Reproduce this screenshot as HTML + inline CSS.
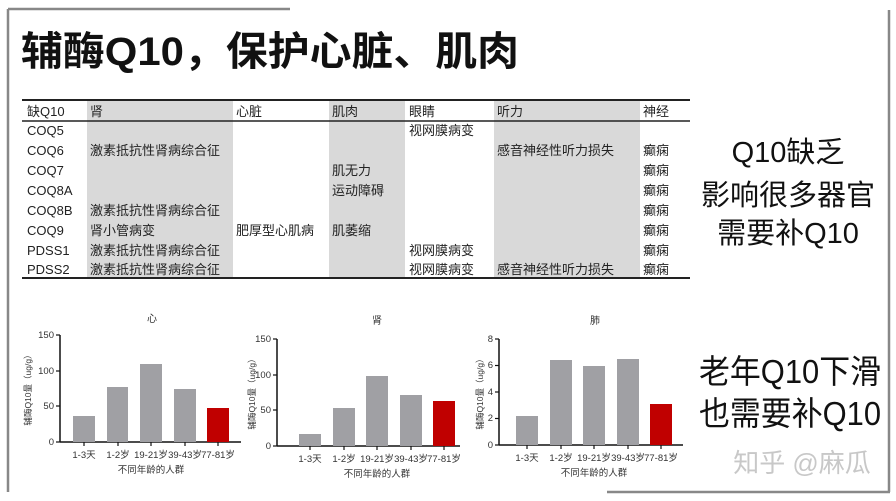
<!DOCTYPE html>
<html><head><meta charset="utf-8"><style>
html,body{margin:0;padding:0;background:#fff;}
svg{display:block;}
text{font-family:"Liberation Sans","Noto Sans CJK SC",sans-serif;}
</style></head><body>
<svg width="896" height="501" viewBox="0 0 896 501" xmlns="http://www.w3.org/2000/svg">
<rect width="896" height="501" fill="#fff"/>
<line x1="8" y1="9" x2="290" y2="9" stroke="#888" stroke-width="2.5"/>
<line x1="8" y1="9" x2="8" y2="492" stroke="#888" stroke-width="2.5"/>
<line x1="889" y1="10" x2="889" y2="492" stroke="#888" stroke-width="2.5"/>
<line x1="607" y1="492" x2="890" y2="492" stroke="#888" stroke-width="2.5"/>
<text x="21" y="65" font-size="40" font-weight="bold" fill="#111" textLength="498" lengthAdjust="spacingAndGlyphs">辅酶Q10，保护心脏、肌肉</text>
<g fill="#d9d9d9">
<rect x="87" y="101" width="146" height="177"/>
<rect x="329" y="101" width="76" height="177"/>
<rect x="494" y="101" width="146" height="177"/>
</g>
<line x1="22" y1="100" x2="690" y2="100" stroke="#222" stroke-width="2"/>
<line x1="22" y1="121" x2="690" y2="121" stroke="#222" stroke-width="1.5"/>
<line x1="22" y1="278" x2="690" y2="278" stroke="#222" stroke-width="2"/>
<g font-size="13" fill="#222">
<text x="27" y="116">缺Q10</text><text x="90" y="116">肾</text><text x="236" y="116">心脏</text><text x="332" y="116">肌肉</text><text x="409" y="116">眼睛</text><text x="497" y="116">听力</text><text x="643" y="116">神经</text>
<text x="27" y="135">COQ5</text><text x="409" y="135">视网膜病变</text>
<text x="27" y="155">COQ6</text><text x="90" y="155">激素抵抗性肾病综合征</text><text x="497" y="155">感音神经性听力损失</text><text x="643" y="155">癫痫</text>
<text x="27" y="175">COQ7</text><text x="332" y="175">肌无力</text><text x="643" y="175">癫痫</text>
<text x="27" y="195">COQ8A</text><text x="332" y="195">运动障碍</text><text x="643" y="195">癫痫</text>
<text x="27" y="215">COQ8B</text><text x="90" y="215">激素抵抗性肾病综合征</text><text x="643" y="215">癫痫</text>
<text x="27" y="235">COQ9</text><text x="90" y="235">肾小管病变</text><text x="236" y="235">肥厚型心肌病</text><text x="332" y="235">肌萎缩</text><text x="643" y="235">癫痫</text>
<text x="27" y="255">PDSS1</text><text x="90" y="255">激素抵抗性肾病综合征</text><text x="409" y="255">视网膜病变</text><text x="643" y="255">癫痫</text>
<text x="27" y="274">PDSS2</text><text x="90" y="274">激素抵抗性肾病综合征</text><text x="409" y="274">视网膜病变</text><text x="497" y="274">感音神经性听力损失</text><text x="643" y="274">癫痫</text>
</g>
<g font-size="29" fill="#111" text-anchor="middle">
<text x="788" y="162">Q10缺乏</text>
<text x="788" y="205">影响很多器官</text>
<text x="788" y="243">需要补Q10</text>
</g>
<g font-size="33" fill="#111" text-anchor="middle">
<text x="790" y="383" textLength="182" lengthAdjust="spacingAndGlyphs">老年Q10下滑</text>
<text x="790" y="425" textLength="182" lengthAdjust="spacingAndGlyphs">也需要补Q10</text>
</g>
<text x="802" y="472" font-size="26" fill="#c8c8c8" text-anchor="middle">知乎 @麻瓜</text>
<g font-size="9.5" fill="#333">
<text x="152" y="322" font-size="10" text-anchor="middle">心</text>
<line x1="60" y1="335" x2="60" y2="442" stroke="#111" stroke-width="1.5"/>
<line x1="60" y1="442" x2="241" y2="442" stroke="#111" stroke-width="1.5"/>
<g stroke="#111" stroke-width="1.2"><line x1="56" y1="335" x2="60" y2="335"/><line x1="56" y1="371" x2="60" y2="371"/><line x1="56" y1="406" x2="60" y2="406"/><line x1="56" y1="442" x2="60" y2="442"/>
<line x1="84" y1="442" x2="84" y2="446"/><line x1="118" y1="442" x2="118" y2="446"/><line x1="151" y1="442" x2="151" y2="446"/><line x1="185" y1="442" x2="185" y2="446"/><line x1="218" y1="442" x2="218" y2="446"/></g>
<text x="54" y="338" text-anchor="end">150</text><text x="54" y="374" text-anchor="end">100</text><text x="54" y="409" text-anchor="end">50</text><text x="54" y="445" text-anchor="end">0</text>
<rect x="73" y="416" width="22" height="26" fill="#a0a0a4"/>
<rect x="107" y="387" width="21" height="55" fill="#a0a0a4"/>
<rect x="140" y="364" width="22" height="78" fill="#a0a0a4"/>
<rect x="174" y="389" width="22" height="53" fill="#a0a0a4"/>
<rect x="207" y="408" width="22" height="34" fill="#c00000"/>
<text x="84" y="458" text-anchor="middle">1-3天</text><text x="118" y="458" text-anchor="middle">1-2岁</text><text x="151" y="458" text-anchor="middle">19-21岁</text><text x="185" y="458" text-anchor="middle">39-43岁</text><text x="218" y="458" text-anchor="middle">77-81岁</text>
<text x="151" y="473" text-anchor="middle">不同年龄的人群</text>
<text transform="translate(31,388) rotate(-90)" text-anchor="middle" font-size="8.5">辅酶Q10量（ug/g）</text>
</g>
<g font-size="9.5" fill="#333">
<text x="377" y="324" font-size="10" text-anchor="middle">肾</text>
<line x1="277" y1="339" x2="277" y2="446" stroke="#111" stroke-width="1.5"/>
<line x1="277" y1="446" x2="460" y2="446" stroke="#111" stroke-width="1.5"/>
<g stroke="#111" stroke-width="1.2"><line x1="273" y1="339" x2="277" y2="339"/><line x1="273" y1="375" x2="277" y2="375"/><line x1="273" y1="410" x2="277" y2="410"/><line x1="273" y1="446" x2="277" y2="446"/>
<line x1="310" y1="446" x2="310" y2="450"/><line x1="344" y1="446" x2="344" y2="450"/><line x1="377" y1="446" x2="377" y2="450"/><line x1="411" y1="446" x2="411" y2="450"/><line x1="444" y1="446" x2="444" y2="450"/></g>
<text x="271" y="342" text-anchor="end">150</text><text x="271" y="378" text-anchor="end">100</text><text x="271" y="413" text-anchor="end">50</text><text x="271" y="449" text-anchor="end">0</text>
<rect x="299" y="434" width="22" height="12" fill="#a0a0a4"/>
<rect x="333" y="408" width="22" height="38" fill="#a0a0a4"/>
<rect x="366" y="376" width="22" height="70" fill="#a0a0a4"/>
<rect x="400" y="395" width="22" height="51" fill="#a0a0a4"/>
<rect x="433" y="401" width="22" height="45" fill="#c00000"/>
<text x="310" y="462" text-anchor="middle">1-3天</text><text x="344" y="462" text-anchor="middle">1-2岁</text><text x="377" y="462" text-anchor="middle">19-21岁</text><text x="411" y="462" text-anchor="middle">39-43岁</text><text x="444" y="462" text-anchor="middle">77-81岁</text>
<text x="377" y="477" text-anchor="middle">不同年龄的人群</text>
<text transform="translate(255,392) rotate(-90)" text-anchor="middle" font-size="8.5">辅酶Q10量（ug/g）</text>
</g>
<g font-size="9.5" fill="#333">
<text x="595" y="324" font-size="10" text-anchor="middle">肺</text>
<line x1="499" y1="339" x2="499" y2="445" stroke="#111" stroke-width="1.5"/>
<line x1="499" y1="445" x2="683" y2="445" stroke="#111" stroke-width="1.5"/>
<g stroke="#111" stroke-width="1.2"><line x1="495" y1="339" x2="499" y2="339"/><line x1="495" y1="365.5" x2="499" y2="365.5"/><line x1="495" y1="392" x2="499" y2="392"/><line x1="495" y1="418.5" x2="499" y2="418.5"/><line x1="495" y1="445" x2="499" y2="445"/>
<line x1="527" y1="445" x2="527" y2="449"/><line x1="561" y1="445" x2="561" y2="449"/><line x1="594" y1="445" x2="594" y2="449"/><line x1="628" y1="445" x2="628" y2="449"/><line x1="661" y1="445" x2="661" y2="449"/></g>
<text x="493" y="342" text-anchor="end">8</text><text x="493" y="368" text-anchor="end">6</text><text x="493" y="395" text-anchor="end">4</text><text x="493" y="421" text-anchor="end">2</text><text x="493" y="448" text-anchor="end">0</text>
<rect x="516" y="416" width="22" height="29" fill="#a0a0a4"/>
<rect x="550" y="360" width="22" height="85" fill="#a0a0a4"/>
<rect x="583" y="366" width="22" height="79" fill="#a0a0a4"/>
<rect x="617" y="359" width="22" height="86" fill="#a0a0a4"/>
<rect x="650" y="404" width="22" height="41" fill="#c00000"/>
<text x="527" y="461" text-anchor="middle">1-3天</text><text x="561" y="461" text-anchor="middle">1-2岁</text><text x="594" y="461" text-anchor="middle">19-21岁</text><text x="628" y="461" text-anchor="middle">39-43岁</text><text x="661" y="461" text-anchor="middle">77-81岁</text>
<text x="594" y="476" text-anchor="middle">不同年龄的人群</text>
<text transform="translate(483,392) rotate(-90)" text-anchor="middle" font-size="8.5">辅酶Q10量（ug/g）</text>
</g>
</svg>
</body></html>
